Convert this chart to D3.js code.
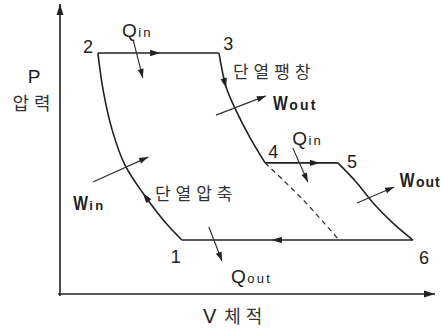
<!DOCTYPE html>
<html>
<head>
<meta charset="utf-8">
<script src="https://cdn.jsdelivr.net/npm/d3@7"></script>
<style>
  body { margin: 0; background: #fff; }
  svg { display: block; }
  .lbl { font-family: "Liberation Sans", Arial, sans-serif; fill: #222; }
  .kr { font-family: "Noto Sans CJK KR", sans-serif; fill: #333; }
</style>
</head>
<body>
<script>
// cycle states in (V, P) units
var compression12 = [[32.5, 18.6], [28, 24.8], [22.1, 34.8], [17.3, 44.5], [13.9, 56.6], [11.5, 70.3], [10.1, 83.1]];
var heatIn23 = [[10.1, 83.1], [42.4, 83.1]];
var expansion34 = [[42.4, 83.1], [44.3, 71.4], [46.9, 63.4], [50.7, 53.8], [54.7, 45.2]];
var heatIn45 = [[54.7, 45.2], [74.1, 45.2]];
var expansion56 = [[74.1, 45.2], [79.2, 38.3], [83.5, 31.4], [88.5, 24.8], [94.1, 18.6]];
var heatOut61 = [[94.1, 18.6], [32.5, 18.6]];
var dashed4 = [[54.7, 45.2], [64.8, 32.5], [74.4, 18.6]];

// flow direction arrows along the cycle: [tail, tip]
var flowArrows = [
  [[25, 83.1], [26.7, 83.1]],
  [[43.7, 74.1], [44.3, 71]],
  [[68, 45.2], [69.3, 45.2]],
  [[58, 18.6], [56.5, 18.6]],
  [[24, 31.4], [22.1, 34.8]]
];

// heat / work arrows: [from, to]
var energyArrows = [
  [[19.5, 87.6], [22.1, 74.5]],
  [[41.6, 61.7], [54.9, 68.3]],
  [[62.1, 50.3], [66.1, 38.6]],
  [[79.2, 31.4], [89.1, 36.9]],
  [[8.8, 38.6], [23.5, 47.2]],
  [[39.7, 23.1], [43.2, 11.4]]
];

var stateLabels = [
  {t: '1', v: 30.9, p: 10.7},
  {t: '2', v: 7.5, p: 83.1},
  {t: '3', v: 44.9, p: 84.1},
  {t: '4', v: 56.9, p: 46.9},
  {t: '5', v: 77.9, p: 43.4},
  {t: '6', v: 97.1, p: 10.3}
];

var energyLabels = [
  {main: 'Q', sub: 'in', v: 16.5, p: 88.6},
  {main: 'W', sub: 'out', v: 56.8, p: 63.4},
  {main: 'Q', sub: 'in', v: 61.9, p: 51.4},
  {main: 'W', sub: 'out', v: 90.6, p: 36.9},
  {main: 'W', sub: 'in', v: 3.5, p: 29},
  {main: 'Q', sub: 'out', v: 45.6, p: 3.8}
];

var processLabels = [
  {t: '단열팽창', v: 46.1, p: 74.5},
  {t: '단열압축', v: 25.3, p: 32.4}
];

var W = 442, H = 332;
var svg = d3.select('body').append('svg').attr('width', W).attr('height', H);

var x = d3.scaleLinear().domain([0, 100]).range([60, 435]);
var y = d3.scaleLinear().domain([0, 100]).range([294, 4]);

var ink = '#222';

function head(px, py, ang, len, half) {
  var c = Math.cos(ang), s = Math.sin(ang);
  var bx = px - c * len, by = py - s * len;
  return 'M' + px + ',' + py +
    'L' + (bx - s * half) + ',' + (by + c * half) +
    'L' + (bx + s * half) + ',' + (by - c * half) + 'Z';
}

// axes
svg.append('path')
  .attr('d', 'M' + x(0) + ',' + y(-0.7) + 'L' + x(0) + ',' + y(100) +
             'M' + x(-0.5) + ',' + y(0) + 'L' + x(100) + ',' + y(0))
  .attr('stroke', ink).attr('stroke-width', 1.6).attr('fill', 'none');
svg.append('path').attr('d', head(x(0), y(100), -Math.PI / 2, 11, 3.5)).attr('fill', ink);
svg.append('path').attr('d', head(x(100), y(0), 0, 11, 3.5)).attr('fill', ink);

var curve = d3.line().x(function (d) { return x(d[0]); }).y(function (d) { return y(d[1]); })
  .curve(d3.curveCatmullRom.alpha(0.5));

[compression12, heatIn23, expansion34, heatIn45, expansion56, heatOut61].forEach(function (seg) {
  svg.append('path').attr('d', curve(seg))
    .attr('stroke', ink).attr('stroke-width', 1.6).attr('fill', 'none');
});

svg.append('path').attr('d', curve(dashed4))
  .attr('stroke', '#333').attr('stroke-width', 1.3).attr('fill', 'none')
  .attr('stroke-dasharray', '5,4');

flowArrows.forEach(function (a) {
  var x0 = x(a[0][0]), y0 = y(a[0][1]), x1 = x(a[1][0]), y1 = y(a[1][1]);
  var ang = Math.atan2(y1 - y0, x1 - x0);
  svg.append('path').attr('d', head(x1, y1, ang, 10, 3.2)).attr('fill', ink);
});

energyArrows.forEach(function (a) {
  var x0 = x(a[0][0]), y0 = y(a[0][1]), x1 = x(a[1][0]), y1 = y(a[1][1]);
  var ang = Math.atan2(y1 - y0, x1 - x0);
  svg.append('line').attr('x1', x0).attr('y1', y0).attr('x2', x1).attr('y2', y1)
    .attr('stroke', '#333').attr('stroke-width', 1.2);
  svg.append('path').attr('d', head(x1, y1, ang, 9, 3)).attr('fill', ink);
});

svg.selectAll('.state').data(stateLabels).enter().append('text')
  .attr('class', 'lbl')
  .attr('x', function (d) { return x(d.v); })
  .attr('y', function (d) { return y(d.p); })
  .attr('text-anchor', 'middle')
  .attr('font-size', 18)
  .text(function (d) { return d.t; });

// Q / W labels: condensed main letter + small spaced subscript
energyLabels.forEach(function (d) {
  var g = svg.append('g').attr('transform', 'translate(' + x(d.v) + ',' + y(d.p) + ')');
  var isW = d.main === 'W';
  var sx = isW ? 0.78 : 1;
  var m = g.append('text').attr('class', 'lbl')
    .attr('transform', 'scale(' + sx + ',1)')
    .attr('font-size', isW ? 20 : 19)
    .attr('font-weight', isW ? 'bold' : 'normal')
    .text(d.main);
  var mw = m.node().getComputedTextLength() * sx;
  g.append('text').attr('class', 'lbl')
    .attr('x', mw + 1.5)
    .attr('font-size', isW && d.sub === 'out' ? 14 : 13)
    .attr('font-weight', isW ? 'bold' : 'normal')
    .attr('letter-spacing', d.v > 85 ? 1 : 2.2)
    .text(d.sub);
});

svg.selectAll('.proc').data(processLabels).enter().append('text')
  .attr('class', 'kr')
  .attr('x', function (d) { return x(d.v); })
  .attr('y', function (d) { return y(d.p); })
  .attr('font-size', 17)
  .attr('letter-spacing', 5)
  .text(function (d) { return d.t; });

// axis titles
svg.append('text').attr('class', 'lbl').attr('x', x(-6.9)).attr('y', y(72.8))
  .attr('text-anchor', 'middle').attr('font-size', 19).text('P');
svg.append('text').attr('class', 'kr').attr('x', x(-12.7)).attr('y', y(63.4))
  .attr('font-size', 18).attr('letter-spacing', 5).text('압력');
var vt = svg.append('text').attr('x', x(38.1)).attr('y', y(-10));
vt.append('tspan').attr('class', 'lbl').attr('font-size', 20).text('V');
vt.append('tspan').attr('class', 'kr').attr('dx', 8).attr('font-size', 18)
  .attr('letter-spacing', 5).text('체적');
</script>
</body>
</html>
